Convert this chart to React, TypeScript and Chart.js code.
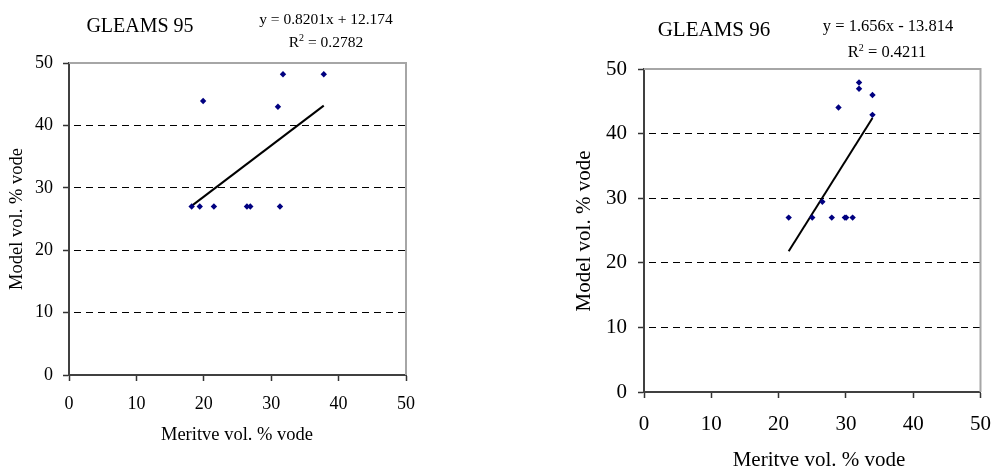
import React, { useEffect, useRef } from "react";
import { Chart, registerables } from "chart.js";

Chart.register(...registerables);

// ---- Data ----
const axisTicks = [0, 10, 20, 30, 40, 50];

const meritve95 = [18.2, 19.4, 21.5, 26.4, 26.9, 31.3, 19.9, 31.0, 31.75, 37.8];
const model95 = [27, 27, 27, 27, 27, 27, 43.9, 43.0, 48.2, 48.2];
const trend95 = [0.8201, 12.174]; // slope, intercept
const r2_95 = "0.2782";
const eq95 = "y = 0.8201x + 12.174";

const meritve96 = [21.5, 25.0, 26.5, 27.9, 29.85, 30.05, 31.0, 28.9, 31.95, 31.95, 33.95, 33.95];
const model96 = [27, 27, 29.45, 27, 27, 27, 27, 44.05, 47.9, 46.95, 45.97, 42.9];
const trend96 = [1.656, -13.814];
const r2_96 = "0.4211";
const eq96 = "y = 1.656x - 13.814";

const FONT = "'Liberation Serif', 'Times New Roman', serif";

type PanelCfg = {
  title: string;
  eq: string;
  r2: string;
  xs: number[];
  ys: number[];
  trend: number[];
  canvasLeft: number;
  width: number;
  area: { left: number; right: number; top: number; bottom: number };
  tickFont: number;
  axisFont: number;
  titleFont: number;
  eqFont: number;
  yPad: number;
  xPad: number;
  titlePos: [number, number];
  eqPos: [number, number];
  r2Pos: [number, number];
  xTitlePos: [number, number];
  yTitlePos: [number, number];
};

const HEIGHT = 471;

const overlayPlugin = {
  id: "overlay",
  beforeDatasetsDraw(chart: any) {
    const { ctx, chartArea: a } = chart;
    ctx.save();
    ctx.strokeStyle = "#a6a6a6";
    ctx.lineWidth = 2;
    ctx.beginPath();
    ctx.moveTo(a.left, a.top);
    ctx.lineTo(a.right, a.top);
    ctx.lineTo(a.right, a.bottom);
    ctx.stroke();
    ctx.restore();
  },
  afterDraw(chart: any, _args: any, opts: any) {
    const c: PanelCfg = opts.cfg;
    if (!c) return;
    const ctx = chart.ctx;
    ctx.save();
    ctx.fillStyle = "#000";
    ctx.textAlign = "center";
    ctx.textBaseline = "middle";
    ctx.font = `${c.titleFont}px ${FONT}`;
    ctx.fillText(c.title, c.titlePos[0], c.titlePos[1]);
    ctx.font = `${c.eqFont}px ${FONT}`;
    ctx.fillText(c.eq, c.eqPos[0], c.eqPos[1]);
    // R^2 line
    const supSize = Math.round(c.eqFont * 0.62);
    ctx.textAlign = "left";
    ctx.textBaseline = "alphabetic";
    ctx.font = `${c.eqFont}px ${FONT}`;
    const wR = ctx.measureText("R").width;
    const rest = " = " + c.r2;
    const wRest = ctx.measureText(rest).width;
    ctx.font = `${supSize}px ${FONT}`;
    const wSup = ctx.measureText("2").width;
    const total = wR + wSup + wRest;
    let x = c.r2Pos[0] - total / 2;
    const base = c.r2Pos[1] + c.eqFont * 0.33;
    ctx.font = `${c.eqFont}px ${FONT}`;
    ctx.fillText("R", x, base);
    x += wR;
    ctx.font = `${supSize}px ${FONT}`;
    ctx.fillText("2", x, base - c.eqFont * 0.38);
    x += wSup;
    ctx.font = `${c.eqFont}px ${FONT}`;
    ctx.fillText(rest, x, base);
    // axis titles
    ctx.textAlign = "center";
    ctx.textBaseline = "middle";
    ctx.font = `${c.axisFont}px ${FONT}`;
    ctx.fillText("Meritve vol. % vode", c.xTitlePos[0], c.xTitlePos[1]);
    ctx.translate(c.yTitlePos[0], c.yTitlePos[1]);
    ctx.rotate(-Math.PI / 2);
    ctx.fillText("Model vol. % vode", 0, 0);
    ctx.restore();
  },
};

function Panel({ cfg }: { cfg: PanelCfg }) {
  const ref = useRef<HTMLCanvasElement>(null);
  useEffect(() => {
    if (!ref.current) return;
    const pts = cfg.xs.map((x, i) => ({ x, y: cfg.ys[i] }));
    const xMin = Math.min(...cfg.xs);
    const xMax = Math.max(...cfg.xs);
    const line = [xMin, xMax].map((x) => ({ x, y: cfg.trend[0] * x + cfg.trend[1] }));
    const a = cfg.area;
    const chart = new Chart(ref.current, {
      type: "scatter",
      data: {
        datasets: [
          {
            type: "line",
            data: line,
            borderColor: "#000",
            borderWidth: 2,
            pointRadius: 0,
            fill: false,
            order: 1,
          } as any,
          {
            data: pts,
            pointStyle: "rectRot",
            pointRadius: 3.2,
            backgroundColor: "#000080",
            borderColor: "#000080",
            borderWidth: 0,
            order: 0,
          },
        ],
      },
      plugins: [overlayPlugin],
      options: {
        animation: false,
        responsive: false,
        maintainAspectRatio: false,
        devicePixelRatio: 1,
        layout: {
          padding: { left: 0, top: a.top, right: cfg.width - a.right, bottom: 0 },
        },
        plugins: {
          legend: { display: false },
          tooltip: { enabled: false },
          overlay: { cfg },
        } as any,
        scales: {
          x: {
            type: "linear",
            min: 0,
            max: 50,
            afterFit: (s: any) => {
              s.height = HEIGHT - a.bottom;
            },
            afterBuildTicks: (s: any) => {
              s.ticks = axisTicks.map((v) => ({ value: v }));
            },
            ticks: {
              color: "#000",
              font: { family: FONT, size: cfg.tickFont },
              padding: cfg.xPad,
              maxRotation: 0,
            },
            grid: {
              drawOnChartArea: false,
              drawTicks: true,
              tickLength: 6,
              tickColor: "#333",
              tickWidth: 1.5,
            },
            border: { color: "#404040", width: 2 },
          },
          y: {
            type: "linear",
            min: 0,
            max: 50,
            afterFit: (s: any) => {
              s.width = a.left;
            },
            afterBuildTicks: (s: any) => {
              s.ticks = axisTicks.map((v) => ({ value: v }));
            },
            ticks: {
              color: "#000",
              font: { family: FONT, size: cfg.tickFont },
              padding: cfg.yPad,
            },
            grid: {
              drawOnChartArea: true,
              drawTicks: true,
              tickLength: 6,
              tickColor: "#333",
              tickWidth: 1.5,
              lineWidth: 1,
              color: (ctx: any) =>
                ctx.tick && (ctx.tick.value === 0 || ctx.tick.value === 50) ? "rgba(0,0,0,0)" : "#000",
            },
            border: { color: "#404040", width: 2, dash: [7, 5], dashOffset: -4 },
          },
        },
      } as any,
    });
    return () => chart.destroy();
  }, [cfg]);
  return (
    <canvas
      ref={ref}
      width={cfg.width}
      height={HEIGHT}
      style={{ position: "absolute", left: cfg.canvasLeft, top: 0, width: cfg.width, height: HEIGHT }}
    />
  );
}

const cfg95: PanelCfg = {
  title: "GLEAMS 95",
  eq: eq95,
  r2: r2_95,
  xs: meritve95,
  ys: model95,
  trend: trend95,
  canvasLeft: 0,
  width: 470,
  area: { left: 69, right: 406, top: 63, bottom: 375 },
  tickFont: 18,
  axisFont: 18.5,
  titleFont: 20,
  eqFont: 15.5,
  yPad: 10,
  xPad: 12,
  titlePos: [140, 27],
  eqPos: [326, 20],
  r2Pos: [326, 42],
  xTitlePos: [237, 435],
  yTitlePos: [17, 219],
};

const cfg96: PanelCfg = {
  title: "GLEAMS 96",
  eq: eq96,
  r2: r2_96,
  xs: meritve96,
  ys: model96,
  trend: trend96,
  canvasLeft: 500,
  width: 505,
  area: { left: 144, right: 494, top: 69, bottom: 392 },
  tickFont: 21,
  axisFont: 21,
  titleFont: 21,
  eqFont: 16.5,
  yPad: 11,
  xPad: 14,
  titlePos: [214, 30],
  eqPos: [388, 27],
  r2Pos: [387, 52],
  xTitlePos: [319, 460],
  yTitlePos: [84, 231],
};

export default function App() {
  return (
    <div style={{ position: "absolute", left: 0, top: 0, width: 1005, height: HEIGHT, background: "#fff" }}>
      <Panel cfg={cfg95} />
      <Panel cfg={cfg96} />
    </div>
  );
}
